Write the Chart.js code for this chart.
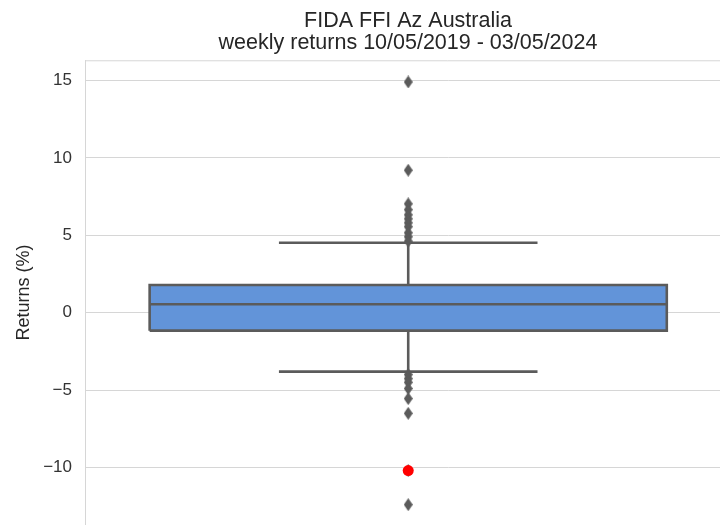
<!DOCTYPE html>
<html>
<head>
  <title>FIDA FFI Az Australia - weekly returns</title>
  <script src="https://cdn.jsdelivr.net/npm/chart.js"></script>
  <style>
    html, body {
      margin: 0;
      padding: 0;
      background: #ffffff;
      overflow: hidden;
    }
    /* bigger than the window: right and bottom are cropped like in the original */
    .chart-container {
      position: relative;
      width: 816px;
      height: 548px;
    }
  </style>
</head>
<body>
  <div class="chart-container">
    <canvas id="boxChart"></canvas>
  </div>

  <script>
    // box statistics (returns in %)
    const quartiles = [-1.16, 0.54, 1.79];   // Q1, median, Q3
    const whiskers = [-3.81, 4.52];          // low, high
    const upperOutliers = [14.9, 9.2, 7.03, 6.65, 6.32, 6.06, 5.8, 5.55, 5.16, 4.9, 4.62];
    const lowerOutliers = [-4.0, -4.26, -4.5, -4.9, -5.55, -6.5, -10.2, -12.4];
    const latestReturn = [-10.2];
    const yTicks = [-10, -5, 0, 5, 10, 15];

    const fontFamily = "'Liberation Sans', Arial, sans-serif";
    const lineGray = '#5b5b5b';
    const boxBlue = '#6294d9';
    const gridGray = '#d6d6d6';

    // thin diamond marker like matplotlib 'd'
    const diamond = document.createElement('canvas');
    diamond.width = 9;
    diamond.height = 13;
    const dctx = diamond.getContext('2d');
    dctx.fillStyle = lineGray;
    dctx.beginPath();
    dctx.moveTo(4.5, 0);
    dctx.lineTo(9, 6.5);
    dctx.lineTo(4.5, 13);
    dctx.lineTo(0, 6.5);
    dctx.closePath();
    dctx.fill();

    const [q1, med, q3] = quartiles;
    const [wLo, wHi] = whiskers;
    const half = 0.4, cap = 0.2;

    // top spine
    const topSpine = {
      id: 'topSpine',
      afterDraw(chart) {
        const { ctx, chartArea } = chart;
        ctx.save();
        ctx.strokeStyle = gridGray;
        ctx.lineWidth = 1;
        ctx.beginPath();
        ctx.moveTo(chartArea.left, chartArea.top + 0.5);
        ctx.lineTo(chartArea.right, chartArea.top + 0.5);
        ctx.stroke();
        ctx.restore();
      }
    };

    const ctx = document.getElementById('boxChart').getContext('2d');
    const chart = new Chart(ctx, {
      type: 'line',
      data: {
        datasets: [
          {
            label: 'latest',
            type: 'scatter',
            data: latestReturn.map(v => ({ x: 0, y: v })),
            pointStyle: 'circle',
            pointRadius: 5.5,
            backgroundColor: '#ff0000',
            borderWidth: 0,
            order: 1
          },
          {
            label: 'outliers',
            type: 'scatter',
            data: upperOutliers.concat(lowerOutliers).map(v => ({ x: 0, y: v })),
            pointStyle: diamond,
            order: 2
          },
          {
            label: 'box',
            data: [
              { x: -half, y: q1 }, { x: half, y: q1 }, { x: half, y: q3 },
              { x: -half, y: q3 }, { x: -half, y: q1 }, { x: -half, y: null },
              { x: -half, y: med }, { x: half, y: med }
            ],
            borderColor: lineGray,
            borderWidth: 2.6,
            borderJoinStyle: 'miter',
            pointRadius: 0,
            spanGaps: false,
            order: 3
          },
          {
            label: 'whiskers',
            data: [
              { x: 0, y: q3 }, { x: 0, y: wHi }, { x: 0, y: null },
              { x: -cap, y: wHi }, { x: cap, y: wHi }, { x: cap, y: null },
              { x: 0, y: q1 }, { x: 0, y: wLo }, { x: 0, y: null },
              { x: -cap, y: wLo }, { x: cap, y: wLo }
            ],
            borderColor: lineGray,
            borderWidth: 2.6,
            pointRadius: 0,
            spanGaps: false,
            order: 4
          },
          {
            label: 'fill',
            data: [{ x: -half, y: q3 }, { x: half, y: q3 }],
            borderWidth: 0,
            pointRadius: 0,
            backgroundColor: boxBlue,
            fill: { value: q1 },
            order: 5
          }
        ]
      },
      options: {
        responsive: true,
        maintainAspectRatio: false,
        animation: false,
        layout: {
          padding: 0
        },
        plugins: {
          legend: { display: false },
          tooltip: { enabled: false },
          title: {
            display: true,
            text: ['FIDA FFI Az Australia', 'weekly returns 10/05/2019 - 03/05/2024'],
            color: '#262626',
            font: { family: fontFamily, size: 21.5, weight: 'normal', lineHeight: 1.03 },
            padding: { top: 10, bottom: 6 }
          }
        },
        scales: {
          x: {
            type: 'linear',
            display: false,
            min: -0.5,
            max: 0.6223
          },
          y: {
            min: -13.7,
            max: 16.3,
            afterBuildTicks: scale => {
              scale.ticks = yTicks.map(v => ({ value: v }));
            },
            afterFit: scale => {
              scale.width = 85;
            },
            grid: {
              color: gridGray,
              lineWidth: 1,
              drawTicks: false
            },
            border: { display: true, color: gridGray, width: 1 },
            ticks: {
              color: '#333333',
              padding: 13,
              font: { family: fontFamily, size: 17 },
              callback: v => (v < 0 ? '\u2212' + Math.abs(v) : String(v))
            },
            title: {
              display: true,
              text: 'Returns (%)',
              color: '#262626',
              font: { family: fontFamily, size: 18 },
              padding: { top: 13, bottom: 0 }
            }
          }
        }
      },
      plugins: [topSpine]
    });
  </script>
</body>
</html>
